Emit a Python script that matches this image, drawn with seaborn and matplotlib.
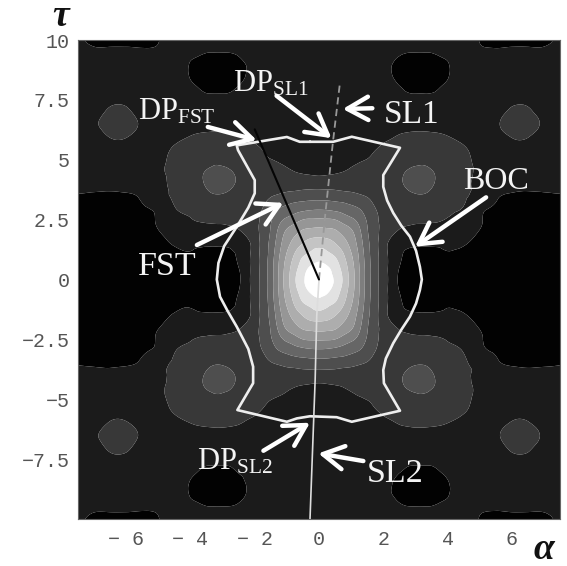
import numpy as np
import seaborn as sns
import matplotlib
matplotlib.use('Agg')
import matplotlib.pyplot as plt
import matplotlib.tri as mtri

# grid of the upper right quadrant, the surface is mirrored on both axes
alpha_grid = [0, .25, .5, .75, 1, 1.25, 1.5, 1.75, 2, 2.25, 2.5, 2.75, 3, 3.25, 3.5, 3.75, 4, 4.5, 5, 5.5, 6, 6.5, 7, 7.5]
tau_grid = [0, .5, 1, 1.5, 2, 2.5, 3, 3.5, 4, 4.5, 5, 5.5, 6, 6.5, 7, 7.5, 8, 8.5, 9, 9.5, 10]

# surface height in contour bands
surface = [
    [10.2, 9.56, 8.88, 7.9, 6.6, 5.12, 3.55, 2.4, 1.5, .65, -.15, -.6, -.8, -.9, -1, -1, -1, -1, -1, -1, -1, -1, -1, -1],
    [9.46, 9.15, 8.55, 7.62, 6.47, 5.06, 3.55, 2.4, 1.5, .65, 0, -.35, -.5, -.6, -.6, -.6, -.6, -.7, -.9, -1, -1, -1, -1, -1],
    [8.61, 8.29, 7.94, 7.16, 6.13, 4.88, 3.44, 2.37, 1.5, .65, .1, -.08, -.15, -.2, -.2, -.18, -.1, -.3, -.6, -.9, -1, -1, -1, -1],
    [7.59, 7.45, 7.05, 6.43, 5.68, 4.58, 3.3, 2.32, 1.45, .7, .3, .12, .08, .07, .08, .1, .15, .1, -.4, -.75, -.95, -1, -1, -1],
    [6.43, 6.35, 6.17, 5.7, 5.18, 4.24, 3.1, 2.26, 1.75, 1.25, .9, .7, .6, .55, .55, .55, .55, .45, -.05, -.55, -.9, -1, -1, -1],
    [5.13, 5.1, 5.0, 4.6, 4.22, 3.66, 2.9, 2.25, 1.7, 1.45, 1.3, 1.25, 1.2, 1.2, 1.15, 1.08, .95, .65, .12, -.4, -.7, -.9, -.95, -.95],
    [3.76, 3.72, 3.6, 3.45, 3.2, 2.95, 2.5, 2.0, 1.7, 1.6, 1.55, 1.55, 1.55, 1.5, 1.45, 1.35, 1.2, .97, .25, -.1, -.55, -.7, -.7, -.65],
    [2.57, 2.55, 2.5, 2.4, 2.3, 2.12, 1.92, 1.65, 1.5, 1.55, 1.65, 1.8, 1.92, 1.93, 1.78, 1.55, 1.4, 1.1, .7, .15, -.15, -.25, -.2, -.1],
    [1.55, 1.55, 1.52, 1.48, 1.45, 1.42, 1.4, 1.4, 1.45, 1.6, 1.85, 2.15, 2.3, 2.3, 2.1, 1.8, 1.55, 1.2, .75, .5, .4, .35, .4, .45],
    [.8, .85, .92, 1, 1.1, 1.2, 1.3, 1.4, 1.5, 1.6, 1.8, 2.05, 2.15, 2.15, 2.05, 1.8, 1.55, 1.2, .85, .6, .55, .55, .55, .55],
    [.55, .55, .6, .68, .8, .92, 1.02, 1.15, 1.3, 1.45, 1.6, 1.75, 1.85, 1.88, 1.75, 1.6, 1.45, 1.15, .85, .65, .65, .65, .6, .55],
    [.45, .45, .48, .5, .55, .65, .8, .95, 1.12, 1.28, 1.4, 1.5, 1.55, 1.55, 1.5, 1.4, 1.28, 1.05, .8, .75, .85, .85, .7, .55],
    [.4, .4, .4, .42, .45, .5, .55, .65, .78, .9, 1.05, 1.12, 1.15, 1.15, 1.12, 1.08, 1, .8, .7, .85, 1.03, 1.03, .8, .55],
    [.4, .4, .4, .42, .45, .45, .5, .55, .6, .65, .7, .75, .78, .78, .78, .75, .7, .6, .6, .92, 1.15, 1.15, .92, .55],
    [.4, .4, .4, .4, .4, .4, .42, .45, .48, .5, .5, .5, .5, .5, .5, .5, .5, .5, .55, .8, 1.08, 1.08, .8, .55],
    [.4, .4, .4, .4, .4, .4, .4, .38, .35, .3, .25, .2, .18, .18, .18, .2, .25, .35, .5, .65, .85, .85, .65, .5],
    [.4, .4, .4, .4, .4, .4, .38, .32, .25, .15, .05, -.1, -.15, -.15, -.12, 0, .1, .3, .45, .55, .55, .55, .5, .45],
    [.4, .4, .4, .4, .4, .38, .35, .25, .12, .03, -.2, -.3, -.35, -.35, -.3, -.2, -.03, .22, .4, .45, .45, .45, .45, .4],
    [.4, .4, .4, .4, .4, .38, .32, .22, .1, .02, -.15, -.28, -.3, -.3, -.28, -.15, -.02, .2, .35, .35, .35, .35, .35, .35],
    [.4, .4, .4, .4, .4, .38, .35, .3, .25, .18, .1, .03, .02, .02, .03, .1, .12, .15, .12, .1, .15, .15, .12, .2],
    [.4, .4, .4, .4, .4, .4, .4, .4, .4, .4, .4, .4, .4, .4, .4, .4, .4, .3, -.02, -.2, -.25, -.25, -.15, .15],
]

band_levels = [-5, 0, 1, 2, 3, 4, 5, 6, 7, 8, 9, 12]
band_colors = ['#020202', '#1b1b1b', '#383838', '#4e4e4e', '#666666', '#7e7e7e', '#969696',
               '#adadad', '#c4c4c4', '#e2e2e2', '#ffffff']

boc_alpha = [-.28, .44, 1.02, 2.52, 2.0, 2.0, 2.12, 2.31, 2.56, 2.83, 3.02, 3.14, 3.2, 3.14, 3.02, 2.83, 2.56, 2.31, 2.08, 2.0, 2.02, 2.52, 1.02, .55, -.28,
             -.69, -1.0, -2.54, -2.05, -2.05, -2.2, -2.56, -2.85, -3.08, -3.18, -3.13, -2.95, -2.56, -2.2, -2.0, -2.0, -2.52, -2.56, -1.0, -.6, -.28]
boc_tau = [5.75, 5.75, 5.96, 5.5, 4.36, 3.87, 3.3, 2.78, 2.25, 1.79, 1.2, .53, 0, -.44, -1.0, -1.55, -2.1, -2.66, -3.3, -3.78, -4.33, -5.48, -5.94, -5.75, -5.71,
           -5.8, -5.94, -5.45, -4.33, -3.64, -2.9, -1.97, -1.3, -.72, 0, .69, 1.4, 2.2, 3.0, 3.6, 4.15, 5.4, 5.6, 5.95, 5.75, 5.75]

fst_alpha = [0, -2.0]
fst_tau = [0, 6.27]
sl1_alpha = [0, .2, .43, .65]
sl1_tau = [0, 2.78, 5.7, 8.19]
sl2_alpha = [0, -.07, -.12, -.28]
sl2_tau = [0, -1.5, -4.2, -10]

# label, text position, arrow tail, arrow head
label_texts = [r'$\mathrm{DP_{FST}}$', r'$\mathrm{DP_{SL1}}$', 'SL1', 'FST', 'BOC', r'$\mathrm{DP_{SL2}}$', 'SL2']
label_sizes = [22, 22, 24, 24.5, 23, 22, 24.5]
label_pos = [(-5.63, 6.69), (-2.67, 7.87), (2.0, 6.55), (-5.62, .19), (4.49, 3.77), (-3.81, -7.92), (1.48, -8.47)]
arrow_tail = [(-3.46, 6.37), (-1.32, 7.67), (1.66, 7.15), (-3.8, 1.44), (5.2, 3.43), (-1.73, -7.15), (1.38, -7.58)]
arrow_head = [(-1.94, 5.82), (.39, 5.9), (.74, 7.12), (-1.11, 3.2), (2.99, 1.37), (-.28, -5.98), (-.02, -7.26)]

x_ticks = [-6, -4, -2, 0, 2, 4, 6]
x_labels = ['\u2212 6', '\u2212 4', '\u2212 2', '0', '2', '4', '6']
y_ticks = [-7.5, -5, -2.5, 0, 2.5, 5, 7.5, 10]
y_labels = ['\u22127.5', '\u22125', '\u22122.5', '0', '2.5', '5', '7.5', '10']


def mirrored_surface():
    z = np.array(surface)
    z = np.hstack([z[:, :0:-1], z])
    z = np.vstack([z[:0:-1], z])
    a = np.array(alpha_grid)
    t = np.array(tau_grid)
    return np.r_[-a[:0:-1], a], np.r_[-t[:0:-1], t], z


def main():
    sns.set_style('white')
    plt.rcParams['mathtext.fontset'] = 'custom'
    plt.rcParams['mathtext.rm'] = 'Liberation Serif'

    fig = plt.figure(figsize=(5.67, 5.66), dpi=100)
    ax = fig.add_axes([78 / 567, 1 - 519 / 566, (560 - 78) / 567, (519 - 40) / 566])

    a, t, z = mirrored_surface()
    aa, tt = np.meshgrid(a, t)
    # cubic refine so the bands come out round like in the original
    triang = mtri.Triangulation(aa.ravel(), tt.ravel())
    fine_tri, fine_z = mtri.UniformTriRefiner(triang).refine_field(z.ravel(), subdiv=3)
    ax.tricontourf(fine_tri, fine_z, levels=band_levels, colors=band_colors, antialiased=True)

    sns.lineplot(x=boc_alpha, y=boc_tau, sort=False, estimator=None, color='#eeeeee', lw=1.9, ax=ax)
    sns.lineplot(x=sl2_alpha, y=sl2_tau, sort=False, estimator=None, color='#dddddd', lw=1.2, ax=ax)
    sns.lineplot(x=sl1_alpha, y=sl1_tau, sort=False, estimator=None, color='#999999', lw=1.3, ax=ax, linestyle=(0, (4, 2.5)))
    sns.lineplot(x=fst_alpha, y=fst_tau, sort=False, estimator=None, color='#050505', lw=1.5, ax=ax)

    for text, size, pos in zip(label_texts, label_sizes, label_pos):
        ax.text(pos[0], pos[1], text, color='#f4f4f4', fontsize=size, family='Liberation Serif', ha='left', va='baseline')
    for tail, head in zip(arrow_tail, arrow_head):
        ax.annotate('', xy=head, xytext=tail,
                    arrowprops=dict(arrowstyle='->,head_length=0.75,head_width=0.42', color='white', lw=3.2,
                                    shrinkA=0, shrinkB=0, mutation_scale=20))

    ax.set_xlim(-7.5, 7.5)
    ax.set_ylim(-10, 10)
    ax.set_xticks(x_ticks, x_labels)
    ax.set_yticks(y_ticks, y_labels)
    ax.tick_params(axis='y', length=0, pad=6, labelsize=14.4, labelcolor='#555555')
    ax.tick_params(axis='x', length=0, pad=8, labelsize=14.4, labelcolor='#555555')
    for lab in ax.get_xticklabels() + ax.get_yticklabels():
        lab.set_family('Liberation Mono')
    for spine in ax.spines.values():
        spine.set_color('#666666')
        spine.set_linewidth(.8)

    fig.text(61 / 567, 1 - 26 / 566, '\u03c4', family='Liberation Serif', style='italic', weight='bold',
             fontsize=27, color='#111111', ha='center', va='baseline')
    fig.text(544 / 567, 1 - 559 / 566, '\u03b1', family='Liberation Serif', style='italic', weight='bold',
             fontsize=27, color='#111111', ha='center', va='baseline')

    fig.savefig('out.png', dpi=100)
    plt.close(fig)


if __name__ == '__main__':
    main()
